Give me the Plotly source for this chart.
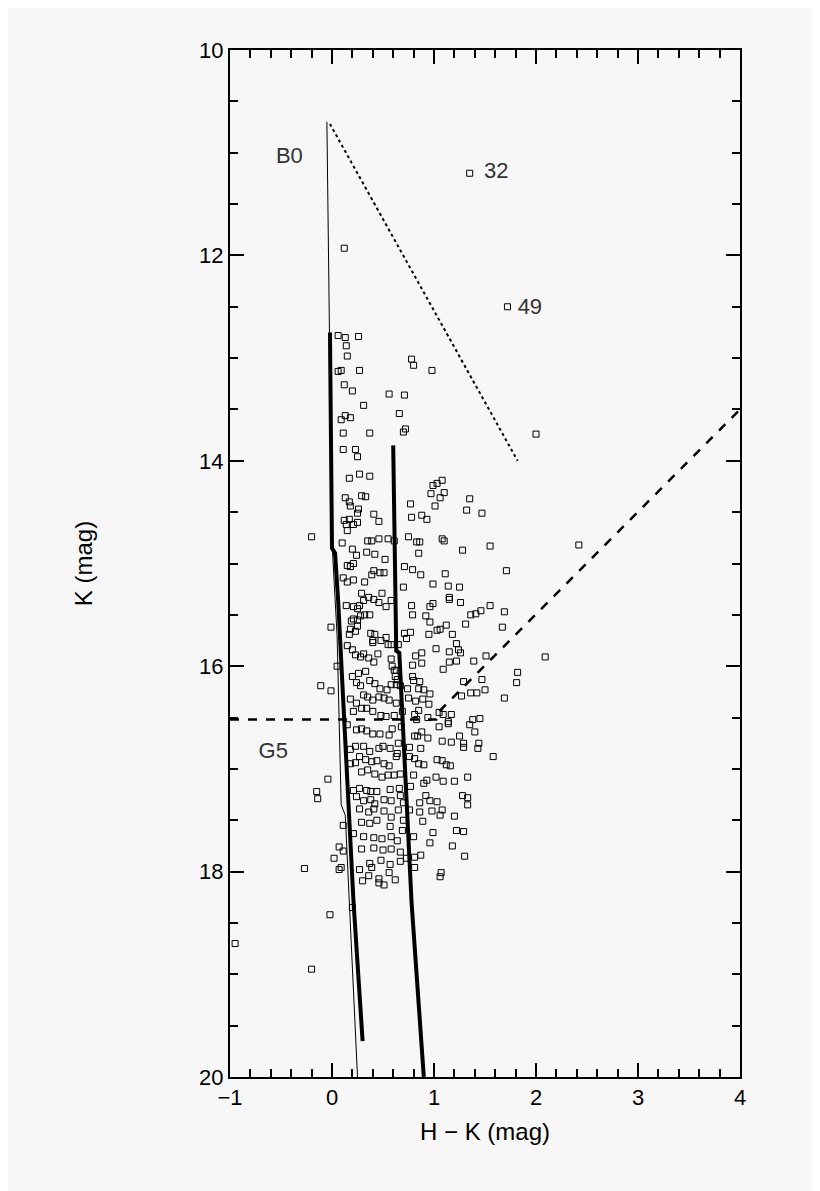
import plotly.graph_objects as go

# observed stars (H-K, K)
hk = [0.06, 0.13, 0.26, 0.14, 0.15, 0.06, 0.09, 0.27, 0.78, 0.80, 0.98, 0.12, 0.20, 0.56, 0.71, 0.31, 0.66, 0.09, 0.13, 0.18,
      0.72, 0.70, 0.11, 0.37, 2.00, 0.11, 0.23, 0.25, 0.17, 0.27, 0.37, 1.08, 1.03, 0.99, 1.10, 0.97, 1.06, 1.35, 0.13, 0.29,
      0.33, 0.17, 0.18, 0.77, 1.01, 1.32, 1.47, 0.26, 0.25, 0.12, 0.17, 0.14, 0.21, 0.25, 0.15, 0.41, 0.46, 0.78, 0.88, 0.93,
      -0.20, 0.75, 0.35, 0.39, 0.46, 0.55, 0.61, 0.83, 0.86, 1.08, 1.10, 0.10, 0.20, 1.28, 1.55, 0.34, 0.42, 0.24, 0.52, 0.85,
      0.15, 0.21, 0.18, 0.41, 0.39, 0.47, 0.51, 0.71, 0.79, 0.87, 1.11, 1.71, 0.11, 0.15, 0.21, 0.32, 0.99, 1.14, 1.25, 0.70,
      0.29, 0.49, 0.36, 0.41, 0.46, 0.31, 0.27, 0.14, 0.21, 0.25, 0.53, 0.58, 0.78, 0.96, 0.99, 1.15, 1.15, 1.26, 1.55, 1.69,
      1.46, 1.41, 1.36, 0.79, 0.92, 0.32, 0.37, 0.28, 0.21,
      -0.01, -0.11, -0.01, 0.05, -0.04, -0.15, -0.14, -0.27, 0.02, 0.07, 0.11, 0.07, 0.09, 0.11,
      0.19, 0.25, 0.25, 0.18, 0.23, 0.17, 0.38, 0.42, 0.48, 0.53, 0.40, 0.40, 0.55, 0.58, 0.65, 0.71, 0.77, 0.73, 0.95, 0.96,
      1.03, 1.06, 1.12, 1.18, 1.31, 1.67, 1.22, 1.24, 1.26, 1.15, 1.02, 1.09, 1.15, 1.22, 1.39, 1.51, 0.88, 0.82, 0.88, 0.79,
      0.15, 0.20, 0.23, 0.28, 0.31, 0.36, 0.41, 0.45, 0.58, 0.61, 0.63, 0.62, 0.64, 0.59, 0.20, 0.26, 0.33, 0.37, 0.24, 0.28,
      0.42, 0.47, 0.54, 0.58, 0.63, 0.67, 0.74, 0.79, 0.80, 0.86, 0.85, 0.90, 0.96, 0.95, 0.89, 0.82, 0.75, 0.18, 0.24, 0.31,
      0.35, 0.40, 0.46, 0.51, 0.56, 0.63, 0.21, 0.29, 0.34, 0.40, 0.48, 0.53, 0.61, 0.69, 0.81, 0.85, 0.83, 0.94, 1.05, 1.09,
      1.17, 1.14, 1.14, 1.05, 1.29, 1.47, 1.27, 1.36, 1.42, 1.50, 1.69, 1.82, 1.81, 2.09, 1.38, 1.45, 1.35, 1.40, 1.25, 1.29,
      1.29, 1.44, 1.43, 1.58, 0.15, 0.24, 0.29, 0.34, 0.40, 0.47, 0.56, 0.59, 0.68, 0.81, 0.84, 0.88, 0.94, 1.08, 1.17, 0.87,
      0.76, 0.65, 0.64, 0.57, 0.50, 0.46, 0.37, 0.31, 0.23, 0.18, 0.27, 0.33, 0.39, 0.44, 0.51, 0.56, 0.63, 0.76, 0.81, 0.85,
      0.90, 1.03, 1.08, 1.12, 1.16, 0.18, 0.23, 0.29, 0.35, 0.42, 0.49, 0.55, 0.61, 0.67, 0.80, 0.93, 1.02, 1.09, 1.20, 1.33,
      0.21, 0.27, 0.34, 0.38, 0.44, 0.57, 0.66, 0.77, 0.90, 0.24, 0.31, 0.38, 0.42, 0.51, 0.58, 0.67, 0.70, 0.86, 0.92, 0.96,
      1.03, 1.28, 1.33, 1.33, 0.27, 0.36, 0.41, 0.51, 0.58, 0.65, 0.76, 0.86, 0.98, 1.08, 1.06, 1.20, 0.29, 0.37, 0.44, 0.57,
      0.70, 0.89, 1.22, 1.29, 0.99, 0.21, 0.31, 0.41, 0.49, 0.58, 0.64, 0.69, 0.80, 0.96, 1.18, 1.30, 0.29, 0.41, 0.50, 0.58,
      0.67, 0.73, 0.81, 0.87, 0.67, 0.37, 0.48, 0.57, 0.39, 0.27, 0.36, 0.46, 0.56, 0.62, 0.81, 1.07, 1.06, 0.30, 0.46, 0.51,
      1.35, 1.72, 0.12, 2.42, -0.95, -0.20, -0.02, 0.20]
kmag = [12.78, 12.80, 12.79, 12.88, 12.98, 13.13, 13.12, 13.12, 13.01, 13.07, 13.12, 13.26, 13.32, 13.35, 13.36, 13.46, 13.54, 13.60, 13.56, 13.58,
        13.69, 13.72, 13.73, 13.73, 13.74, 13.89, 13.89, 13.96, 14.17, 14.13, 14.15, 14.19, 14.22, 14.24, 14.31, 14.32, 14.36, 14.37, 14.36, 14.34,
        14.35, 14.40, 14.44, 14.42, 14.44, 14.48, 14.51, 14.47, 14.51, 14.58, 14.57, 14.62, 14.62, 14.60, 14.68, 14.52, 14.59, 14.55, 14.53, 14.57,
        14.74, 14.74, 14.78, 14.78, 14.76, 14.76, 14.78, 14.79, 14.79, 14.76, 14.78, 14.80, 14.86, 14.87, 14.83, 14.89, 14.91, 14.92, 14.96, 14.90,
        15.02, 15.00, 15.03, 15.07, 15.11, 15.09, 15.09, 15.03, 15.06, 15.11, 15.10, 15.07, 15.14, 15.18, 15.16, 15.18, 15.20, 15.22, 15.23, 15.23,
        15.29, 15.29, 15.33, 15.35, 15.38, 15.36, 15.41, 15.41, 15.42, 15.44, 15.42, 15.36, 15.41, 15.42, 15.39, 15.35, 15.33, 15.38, 15.41, 15.47,
        15.46, 15.49, 15.50, 15.50, 15.51, 15.50, 15.50, 15.51, 15.54,
        15.62, 16.19, 16.24, 16.00, 17.10, 17.22, 17.29, 17.97, 17.87, 17.76, 17.80, 17.98, 17.96, 17.55,
        15.56, 15.55, 15.61, 15.64, 15.66, 15.69, 15.68, 15.69, 15.75, 15.72, 15.75, 15.77, 15.79, 15.79, 15.79, 15.68, 15.67, 15.73, 15.69, 15.57,
        15.65, 15.64, 15.60, 15.69, 15.59, 15.62, 15.78, 15.84, 15.87, 15.86, 15.83, 16.03, 15.96, 15.95, 15.95, 15.90, 15.87, 15.90, 15.97, 15.99,
        15.80, 15.84, 15.89, 15.91, 15.88, 15.92, 15.96, 15.88, 15.93, 16.04, 16.04, 16.10, 16.13, 16.00, 16.10, 16.07, 16.05, 16.14, 16.16, 16.19,
        16.17, 16.22, 16.23, 16.18, 16.18, 16.19, 16.22, 16.10, 16.14, 16.15, 16.22, 16.23, 16.27, 16.37, 16.32, 16.34, 16.31, 16.32, 16.36, 16.28,
        16.30, 16.33, 16.30, 16.31, 16.33, 16.36, 16.44, 16.41, 16.41, 16.44, 16.48, 16.49, 16.48, 16.44, 16.47, 16.43, 16.52, 16.50, 16.45, 16.47,
        16.47, 16.54, 16.56, 16.59, 16.15, 16.13, 16.29, 16.26, 16.26, 16.23, 16.31, 16.06, 16.16, 15.91, 16.52, 16.51, 16.57, 16.64, 16.68, 16.75,
        16.79, 16.75, 16.80, 16.88, 16.57, 16.62, 16.61, 16.63, 16.66, 16.66, 16.67, 16.61, 16.59, 16.68, 16.68, 16.64, 16.70, 16.73, 16.74, 16.80,
        16.79, 16.75, 16.85, 16.80, 16.78, 16.80, 16.83, 16.78, 16.78, 16.81, 16.88, 16.91, 16.93, 16.92, 16.95, 16.97, 16.88, 16.88, 16.90, 16.95,
        16.96, 16.91, 16.92, 16.96, 16.97, 16.95, 16.94, 17.03, 17.01, 17.05, 17.08, 17.06, 17.06, 17.05, 17.06, 17.11, 17.08, 17.12, 17.12, 17.08,
        17.21, 17.19, 17.21, 17.22, 17.22, 17.20, 17.19, 17.17, 17.14, 17.27, 17.31, 17.30, 17.34, 17.30, 17.31, 17.26, 17.33, 17.33, 17.26, 17.31,
        17.32, 17.26, 17.28, 17.35, 17.39, 17.42, 17.39, 17.41, 17.47, 17.40, 17.40, 17.42, 17.41, 17.40, 17.45, 17.46, 17.52, 17.53, 17.50, 17.56,
        17.50, 17.51, 17.60, 17.61, 17.62, 17.63, 17.66, 17.67, 17.68, 17.66, 17.70, 17.60, 17.66, 17.72, 17.75, 17.85, 17.78, 17.77, 17.79, 17.78,
        17.81, 17.87, 17.86, 17.84, 17.90, 17.92, 17.89, 17.93, 17.96, 17.98, 18.04, 18.07, 18.01, 18.08, 17.96, 18.01, 18.05, 18.09, 18.11, 18.13,
        11.20, 12.50, 11.93, 14.82, 18.70, 18.95, 18.42, 18.35]

# main sequence (thin) and isochrones (thick)
ms_x = [-0.05, 0.0, 0.05, 0.09, 0.13, 0.25]
ms_y = [10.7, 14.8, 15.7, 17.35, 17.45, 20.0]
iso1_x = [-0.02, -0.01, 0.0, 0.03, 0.06, 0.21, 0.30]
iso1_y = [12.75, 14.2, 14.85, 14.9, 15.36, 18.28, 19.65]
iso2_x = [0.60, 0.63, 0.66, 0.78, 0.90]
iso2_y = [13.85, 15.85, 15.87, 18.3, 20.0]
redv_x = [-0.02, 1.82]
redv_y = [10.72, 14.0]
lim_x = [-1.0, 1.02, 1.02, 4.0]
lim_y = [16.52, 16.52, 16.47, 13.5]

labels = ["B0", "G5", "32", "49"]
lab_x = [-0.55, -0.72, 1.49, 1.82]
lab_y = [11.05, 16.84, 11.19, 12.52]

fig = go.Figure()
fig.add_trace(go.Scatter(x=hk, y=kmag, mode="markers",
                         marker=dict(symbol="square-open", size=6, color="black", line=dict(width=1))))
fig.add_trace(go.Scatter(x=ms_x, y=ms_y, mode="lines", line=dict(color="black", width=1)))
fig.add_trace(go.Scatter(x=iso1_x, y=iso1_y, mode="lines", line=dict(color="black", width=4)))
fig.add_trace(go.Scatter(x=iso2_x, y=iso2_y, mode="lines", line=dict(color="black", width=4)))
fig.add_trace(go.Scatter(x=redv_x, y=redv_y, mode="lines", line=dict(color="black", width=2, dash="dot")))
fig.add_trace(go.Scatter(x=lim_x, y=lim_y, mode="lines", line=dict(color="black", width=2.5, dash="dash")))
fig.add_trace(go.Scatter(x=lab_x, y=lab_y, mode="text", text=labels, textposition="middle right",
                         textfont=dict(size=22, color="#333")))

axis = dict(showgrid=False, zeroline=False, showline=True, linecolor="black", linewidth=2, mirror="ticks",
            ticks="inside", ticklen=14, tickwidth=2, tickcolor="black",
            tickfont=dict(size=22, color="black"))
fig.update_xaxes(**axis, range=[-1, 4], dtick=1,
                 minor=dict(dtick=0.2, ticks="inside", ticklen=8, tickwidth=1.5, tickcolor="black"),
                 title=dict(text="H − K (mag)", font=dict(size=24), standoff=14))
fig.update_yaxes(**axis, range=[20, 10], dtick=2,
                 minor=dict(dtick=0.5, ticks="inside", ticklen=8, tickwidth=1.5, tickcolor="black"),
                 title=dict(text="K (mag)", font=dict(size=24), standoff=100))
fig.update_layout(width=820, height=1191, showlegend=False,
                  paper_bgcolor="#f7f7f7", plot_bgcolor="#f7f7f7",
                  font=dict(family="Liberation Sans, Arial", color="black"),
                  margin=dict(l=222, r=88, t=42, b=122))
fig.write_html("out.html")
